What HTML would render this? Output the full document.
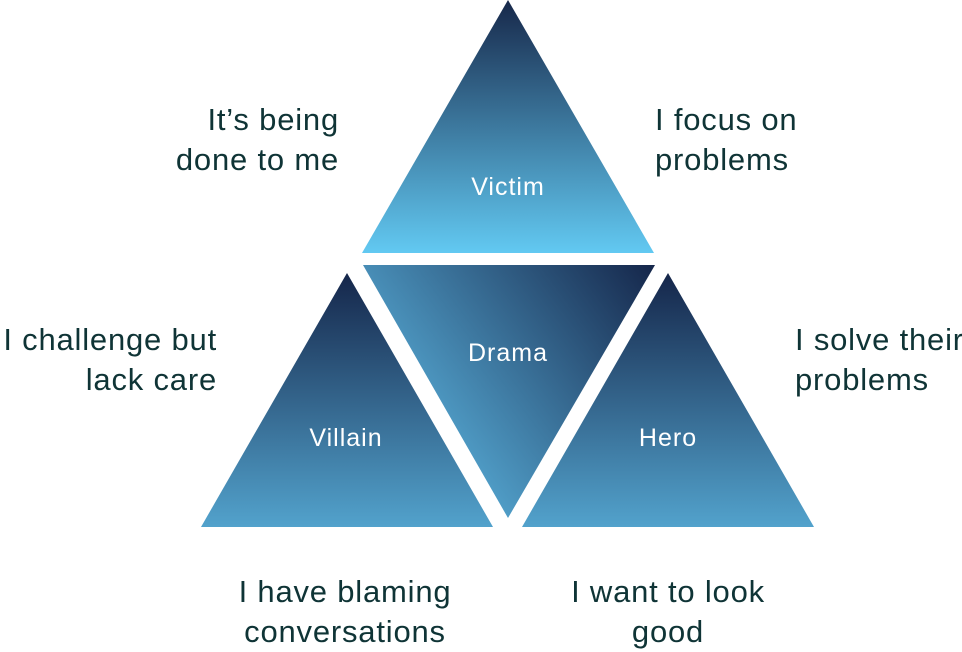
<!DOCTYPE html>
<html><head><style>
html,body{margin:0;padding:0;background:#fff;}
body{width:962px;height:649px;position:relative;overflow:hidden;font-family:"Liberation Sans",sans-serif;}
.t{position:absolute;color:#0f3436;font-size:31px;letter-spacing:0.8px;line-height:40px;white-space:nowrap;}
</style></head><body>
<svg width="962" height="649" style="position:absolute;left:0;top:0">
<defs>
<linearGradient id="v" x1="0" y1="0" x2="0" y2="1">
<stop offset="0" stop-color="#17284a"/><stop offset="1" stop-color="#62c9f2"/></linearGradient>
<linearGradient id="s" x1="0" y1="0" x2="0" y2="1">
<stop offset="0" stop-color="#15264a"/><stop offset="1" stop-color="#52a2cc"/></linearGradient>
<linearGradient id="d" x1="1" y1="0" x2="0.15" y2="0.55">
<stop offset="0" stop-color="#15264a"/><stop offset="1" stop-color="#52a2cc"/></linearGradient>
</defs>
<polygon points="508,0 654,253 362,253" fill="url(#v)"/>
<polygon points="363,265 655,265 508,518" fill="url(#d)"/>
<polygon points="347,273 493,527 201,527" fill="url(#s)"/>
<polygon points="668,273 814,527 522,527" fill="url(#s)"/>
<g fill="#fff" font-family="Liberation Sans, sans-serif" font-size="25" letter-spacing="1" text-anchor="middle">
<text x="508" y="195">Victim</text>
<text x="508" y="361">Drama</text>
<text x="346" y="446">Villain</text>
<text x="668" y="446">Hero</text>
</g>
</svg>
<div class="t" style="right:623px;top:100px;text-align:right">It’s being<br>done to me</div>
<div class="t" style="left:655px;top:100px">I focus on<br>problems</div>
<div class="t" style="right:745px;top:320px;text-align:right">I challenge but<br>lack care</div>
<div class="t" style="left:795px;top:320px">I solve their<br>problems</div>
<div class="t" style="left:195px;width:300px;top:572px;text-align:center">I have blaming<br>conversations</div>
<div class="t" style="left:518px;width:300px;top:572px;text-align:center">I want to look<br>good</div>
</body></html>
